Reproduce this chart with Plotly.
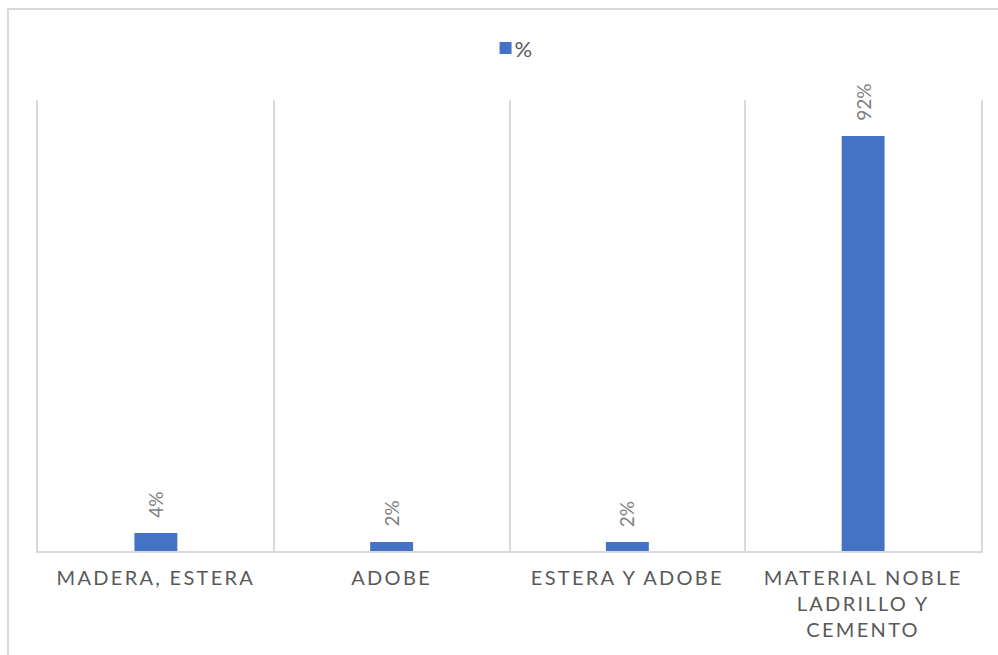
import plotly.graph_objects as go

categories = ["MADERA, ESTERA", "ADOBE", "ESTERA Y ADOBE", "MATERIAL NOBLE<br>LADRILLO Y<br>CEMENTO"]
values = [0.04, 0.02, 0.02, 0.92]
labels = ["4%", "2%", "2%", "92%"]
series_name = "%"

BLUE = "#4472C4"
GRID = "#d9d9d9"
TXT = "#595959"
FONT = "Lato, Open Sans, sans-serif"

fig = go.Figure()
fig.add_trace(go.Bar(
    x=categories, y=values, name=series_name,
    marker=dict(color=BLUE, line=dict(width=0)),
    width=0.182, showlegend=True,
))

for c, v, t in zip(categories, values, labels):
    fig.add_annotation(
        x=c, y=v, text=t, textangle=-90, showarrow=False,
        xref="x", yref="y", yanchor="bottom", xanchor="center", yshift=13,
        font=dict(family=FONT, size=19, color="#7f7f7f"),
    )

fig.add_shape(type="rect", xref="paper", yref="paper",
              x0=(8 - 38) / 943, y0=-0.5, x1=1.2, y1=(551 - 9) / 451,
              line=dict(color=GRID, width=2), fillcolor="rgba(0,0,0,0)", layer="below")

fig.update_layout(
    width=998, height=655,
    margin=dict(l=38, r=17, t=100, b=104),
    paper_bgcolor="white", plot_bgcolor="white",
    font=dict(family=FONT, color=TXT),
    showlegend=True,
    legend=dict(orientation="h", x=0.508, xanchor="center", y=1.115, yanchor="middle",
                font=dict(family=FONT, size=22, color=TXT), itemwidth=30,
                bgcolor="rgba(0,0,0,0)"),
    xaxis=dict(
        type="category", range=[-0.5, 3.5],
        tickson="boundaries", showgrid=True, gridcolor=GRID, gridwidth=1.5,
        showline=True, linecolor=GRID, linewidth=2,
        ticks="", ticklen=0, ticklabelstandoff=8,
        tickfont=dict(family=FONT, size=20, color=TXT),
    ),
    yaxis=dict(range=[0, 1], showgrid=False, zeroline=False, showticklabels=False,
               showline=True, linecolor=GRID, linewidth=1.5, mirror=True, ticks=""),
)

post = """
var gd = document.getElementById('{plot_id}');
gd.querySelectorAll('.xtick text').forEach(function(t){ t.style.letterSpacing = '2.3px'; });
gd.querySelectorAll('.legendtext').forEach(function(t){ t.setAttribute('x', '29'); });
"""
fig.write_html("out.html", post_script=post)
